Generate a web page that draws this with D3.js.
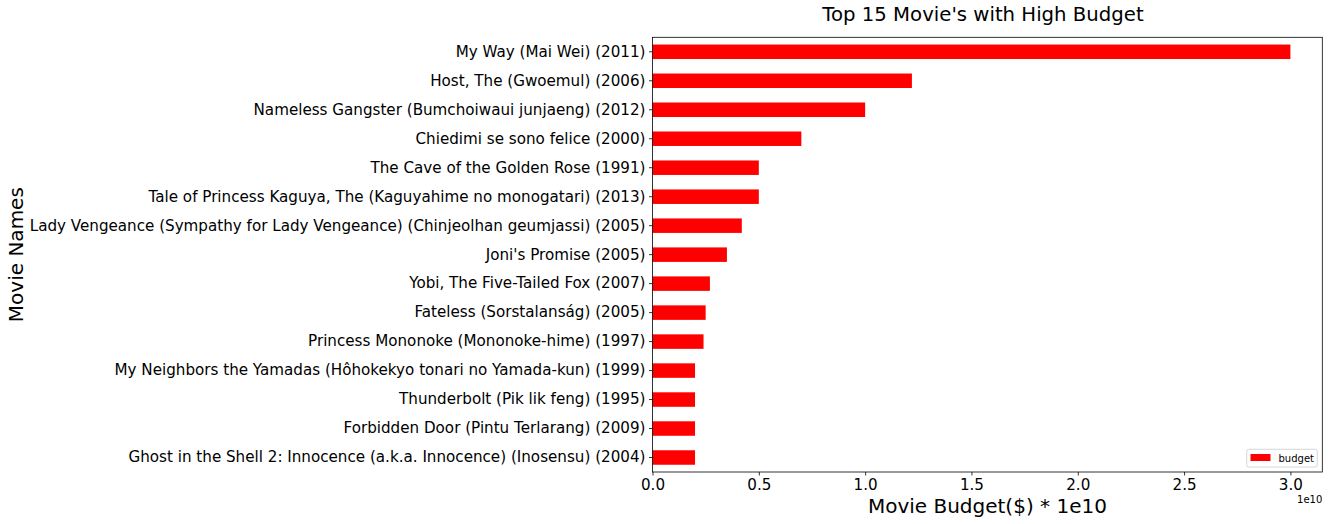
<!DOCTYPE html>
<html>
<head>
<meta charset="utf-8">
<script src="https://cdn.jsdelivr.net/npm/d3@7"></script>
<style>
html,body{margin:0;padding:0;background:#fff;}
svg{display:block;font-family:"DejaVu Sans",sans-serif;}
</style>
</head>
<body>
<svg id="chart" width="1329" height="524"></svg>
<script>
const movies = [
  "My Way (Mai Wei) (2011)",
  "Host, The (Gwoemul) (2006)",
  "Nameless Gangster (Bumchoiwaui junjaeng) (2012)",
  "Chiedimi se sono felice (2000)",
  "The Cave of the Golden Rose (1991)",
  "Tale of Princess Kaguya, The (Kaguyahime no monogatari) (2013)",
  "Lady Vengeance (Sympathy for Lady Vengeance) (Chinjeolhan geumjassi) (2005)",
  "Joni's Promise (2005)",
  "Yobi, The Five-Tailed Fox (2007)",
  "Fateless (Sorstalanság) (2005)",
  "Princess Mononoke (Mononoke-hime) (1997)",
  "My Neighbors the Yamadas (Hôhokekyo tonari no Yamada-kun) (1999)",
  "Thunderbolt (Pik lik feng) (1995)",
  "Forbidden Door (Pintu Terlarang) (2009)",
  "Ghost in the Shell 2: Innocence (a.k.a. Innocence) (Inosensu) (2004)"
];
const budget = [3.0e10, 1.22e10, 1.0e10, 7.0e9, 5.0e9, 5.0e9, 4.2e9, 3.5e9, 2.7e9, 2.5e9, 2.4e9, 2.0e9, 2.0e9, 2.0e9, 2.0e9];
const xTicks = [0, 0.5e10, 1.0e10, 1.5e10, 2.0e10, 2.5e10, 3.0e10];
const xTickLabels = ["0.0", "0.5", "1.0", "1.5", "2.0", "2.5", "3.0"];
const titleText = "Top 15 Movie's with High Budget";
const xLabel = "Movie Budget($) * 1e10";
const yLabel = "Movie Names";
const legendLabel = "budget";

const svg = d3.select("#chart");
const L = 652.5, R = 1322.3, T = 37.3, B = 472;

const x = d3.scaleLinear().domain([0, 3.15e10]).range([L, R]);
const y = d3.scaleBand().domain(movies).range([T, B]).paddingInner(0.5).paddingOuter(0.25);

// bars
svg.append("g").selectAll("rect").data(movies).join("rect")
  .attr("x", x(0))
  .attr("y", d => y(d))
  .attr("width", (d, i) => x(budget[i]) - x(0))
  .attr("height", y.bandwidth())
  .attr("fill", "#ff0000");

// x axis
const xAxis = d3.axisBottom(x).tickValues(xTicks)
  .tickFormat((d, i) => xTickLabels[i]).tickSize(3.5).tickPadding(3.5);
const gx = svg.append("g").attr("transform", `translate(0,${B})`).call(xAxis);
gx.select(".domain").remove();
gx.selectAll("line").attr("stroke", "#000").attr("stroke-width", 0.8);
gx.selectAll("text").attr("font-size", 15.15).attr("fill", "#000")
  .attr("font-family", "DejaVu Sans");

// y axis
const yAxis = d3.axisLeft(y).tickSize(3.5).tickPadding(3.5);
const gy = svg.append("g").attr("transform", `translate(${L},0)`).call(yAxis);
gy.select(".domain").remove();
gy.selectAll("line").attr("stroke", "#000").attr("stroke-width", 0.8);
gy.selectAll("text").attr("font-size", 15.15).attr("fill", "#000")
  .attr("font-family", "DejaVu Sans");

// frame
svg.append("rect").attr("x", L).attr("y", T).attr("width", R - L).attr("height", B - T)
  .attr("fill", "none").attr("stroke", "#000").attr("stroke-width", 0.8);

// title
svg.append("text").attr("x", 983).attr("y", 21).attr("text-anchor", "middle")
  .attr("font-size", 19.7).attr("fill", "#000").text(titleText);

// x label
svg.append("text").attr("x", (L + R) / 2).attr("y", 513).attr("text-anchor", "middle")
  .attr("font-size", 20).attr("fill", "#000").text(xLabel);

// offset text
svg.append("text").attr("x", R).attr("y", 503).attr("text-anchor", "end")
  .attr("font-size", 10).attr("fill", "#000").text("1e10");

// y label
svg.append("text").attr("transform", `translate(23,${(T + B) / 2}) rotate(-90)`)
  .attr("text-anchor", "middle").attr("font-size", 20).attr("fill", "#000").text(yLabel);

// legend
const lg = svg.append("g");
lg.append("rect").attr("x", 1246.7).attr("y", 449.3).attr("width", 70.6).attr("height", 17.7)
  .attr("rx", 2).attr("fill", "#fff").attr("fill-opacity", 0.8)
  .attr("stroke", "#cccccc").attr("stroke-width", 0.8);
lg.append("rect").attr("x", 1250.5).attr("y", 454).attr("width", 20).attr("height", 7)
  .attr("fill", "#ff0000");
lg.append("text").attr("x", 1278.5).attr("y", 461.5).attr("font-size", 10)
  .attr("fill", "#000").text(legendLabel);
</script>
</body>
</html>
